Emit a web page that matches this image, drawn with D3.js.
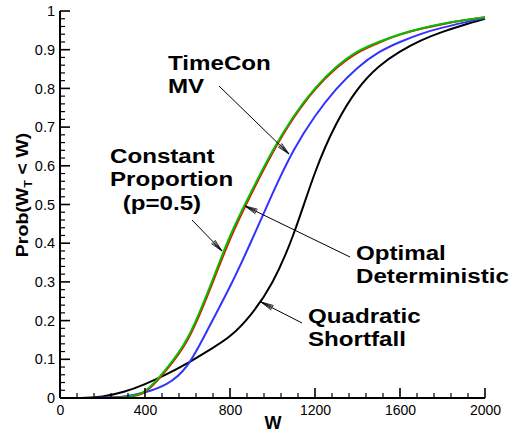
<!DOCTYPE html>
<html><head><meta charset="utf-8">
<script src="https://cdn.jsdelivr.net/npm/d3@7"></script>
<style>body{margin:0;background:#fff}svg{display:block}text{font-family:"Liberation Sans",Arial,Helvetica,sans-serif}</style>
</head><body><div id="chart"></div>
<script>
const wealth = [0,100,200,300,400,500,600,700,800,900,1000,1100,1200,1300,1400,1500,1600,1700,1800,1900,2000];
const optimalDet = [0,0,0,0.002,0.016,0.072,0.15,0.273,0.41,0.527,0.633,0.724,0.797,0.852,0.892,0.918,0.939,0.954,0.966,0.976,0.984];
const constProp = [0,0,0,0.002,0.018,0.075,0.155,0.28,0.418,0.533,0.638,0.728,0.80,0.855,0.895,0.92,0.94,0.955,0.967,0.976,0.984];
const timeConMV = [0,0,0.001,0.004,0.015,0.036,0.085,0.182,0.288,0.405,0.528,0.64,0.728,0.798,0.853,0.893,0.92,0.941,0.957,0.97,0.982];
const quadShort = [0,0,0.004,0.016,0.036,0.061,0.09,0.123,0.16,0.217,0.30,0.425,0.582,0.708,0.797,0.856,0.895,0.924,0.946,0.964,0.98];
const xTicks = [0,400,800,1200,1600,2000];
const yTicks = [0,0.1,0.2,0.3,0.4,0.5,0.6,0.7,0.8,0.9,1];
const yTickLabels = ["0","0.1","0.2","0.3","0.4","0.5","0.6","0.7","0.8","0.9","1"];

const W = 512, H = 435;
const svg = d3.select("#chart").append("svg").attr("width", W).attr("height", H);
const x = d3.scaleLinear().domain([0,2000]).range([60,485]);
const y = d3.scaleLinear().domain([0,1]).range([398,11]);

const xMinor = d3.range(0,2001,80).filter(v => !xTicks.includes(v));
const yMinor = d3.range(0,1.0001,0.02).map(v=>+v.toFixed(2)).filter(v => !yTicks.some(t=>Math.abs(t-v)<1e-9));

const gx = svg.append("g").attr("transform","translate(0,398)")
  .call(d3.axisBottom(x).tickValues(xTicks).tickSize(0).tickPadding(7).tickFormat(d3.format("d")));
gx.select(".domain").remove();
gx.selectAll("text").attr("font-size",14).attr("fill","#000");
const gy = svg.append("g").attr("transform","translate(60,0)")
  .call(d3.axisLeft(y).tickValues(yTicks).tickSize(0).tickPadding(5).tickFormat((d,i)=>yTickLabels[i]));
gy.select(".domain").remove();
gy.selectAll("text").attr("font-size",14.5).attr("fill","#000");

svg.append("defs").append("clipPath").attr("id","plotclip")
  .append("rect").attr("x",60).attr("y",0).attr("width",440).attr("height",398);

const line = d3.line().x(d=>x(d[0])).y(d=>y(d[1])).curve(d3.curveNatural);
const series = [
  {vals: quadShort, color:"#000000"},
  {vals: timeConMV, color:"#3333ff"},
  {vals: optimalDet, color:"#ff0000"},
  {vals: constProp, color:"#00c000"}
];
const gc = svg.append("g").attr("clip-path","url(#plotclip)");
series.forEach(s=>{
  gc.append("path").datum(wealth.map((w,i)=>[w,s.vals[i]]))
    .attr("d",line).attr("fill","none").attr("stroke",s.color).attr("stroke-width",2);
});

svg.append("g").selectAll("line").data(xTicks).join("line")
  .attr("x1",d=>x(d)).attr("x2",d=>x(d)).attr("y1",398).attr("y2",388).attr("stroke","#000").attr("stroke-width",1.6);
svg.append("g").selectAll("line").data(xMinor).join("line")
  .attr("x1",d=>x(d)).attr("x2",d=>x(d)).attr("y1",398).attr("y2",393).attr("stroke","#000").attr("stroke-width",1.2);
svg.append("g").selectAll("line").data(yTicks).join("line")
  .attr("y1",d=>y(d)).attr("y2",d=>y(d)).attr("x1",60).attr("x2",70).attr("stroke","#000").attr("stroke-width",1.6);
svg.append("g").selectAll("line").data(yMinor).join("line")
  .attr("y1",d=>y(d)).attr("y2",d=>y(d)).attr("x1",60).attr("x2",65).attr("stroke","#000").attr("stroke-width",1.2);

svg.append("line").attr("x1",60).attr("x2",485).attr("y1",398).attr("y2",398).attr("stroke","#000").attr("stroke-width",2);
svg.append("line").attr("x1",60).attr("x2",60).attr("y1",398).attr("y2",y(1)).attr("stroke","#000").attr("stroke-width",2);

function label(lines, lx, ly){
  const g = svg.append("g").attr("transform",`translate(${lx},${ly}) scale(1.15,1)`);
  const t = g.append("text").attr("font-size",21).attr("font-weight","bold").attr("fill","#000");
  lines.forEach((l,i)=>t.append("tspan").attr("x",(l.dx||0)).attr("y",i*23.5).text(l.t));
}
label([{t:"TimeCon"},{t:"MV"}],168,70);
label([{t:"Constant"},{t:"Proportion"},{t:"(p=0.5)",dx:11}],110,163);
label([{t:"Optimal"},{t:"Deterministic"}],356,260);
label([{t:"Quadratic"},{t:"Shortfall"}],308,323);

function arrow(x0,y0,x1,y1){
  svg.append("line").attr("x1",x0).attr("y1",y0).attr("x2",x1).attr("y2",y1).attr("stroke","#000").attr("stroke-width",1);
  const a = Math.atan2(y1-y0,x1-x0), L=13, s=0.2;
  [-s,-s/2,s/2,s].forEach(d=>{
    svg.append("line").attr("x1",x1).attr("y1",y1)
      .attr("x2",x1-L*Math.cos(a+d)).attr("y2",y1-L*Math.sin(a+d))
      .attr("stroke","#000").attr("stroke-width",0.8);
  });
}
arrow(219,86,289,154);
arrow(192,220,222,251);
arrow(350,257,245,206);
arrow(302,323,261,302);

svg.append("text").attr("x",273).attr("y",429).attr("text-anchor","middle")
  .attr("font-size",18).attr("font-weight","bold").text("W");
const yl = svg.append("text").attr("transform","translate(28,195) rotate(-90) scale(1.15,1)").attr("text-anchor","middle")
  .attr("font-size",17).attr("font-weight","bold");
yl.append("tspan").text("Prob(W");
yl.append("tspan").attr("font-size",11).attr("dy",4).text("T");
yl.append("tspan").attr("dy",-4).text(" < W)");
</script></body></html>
